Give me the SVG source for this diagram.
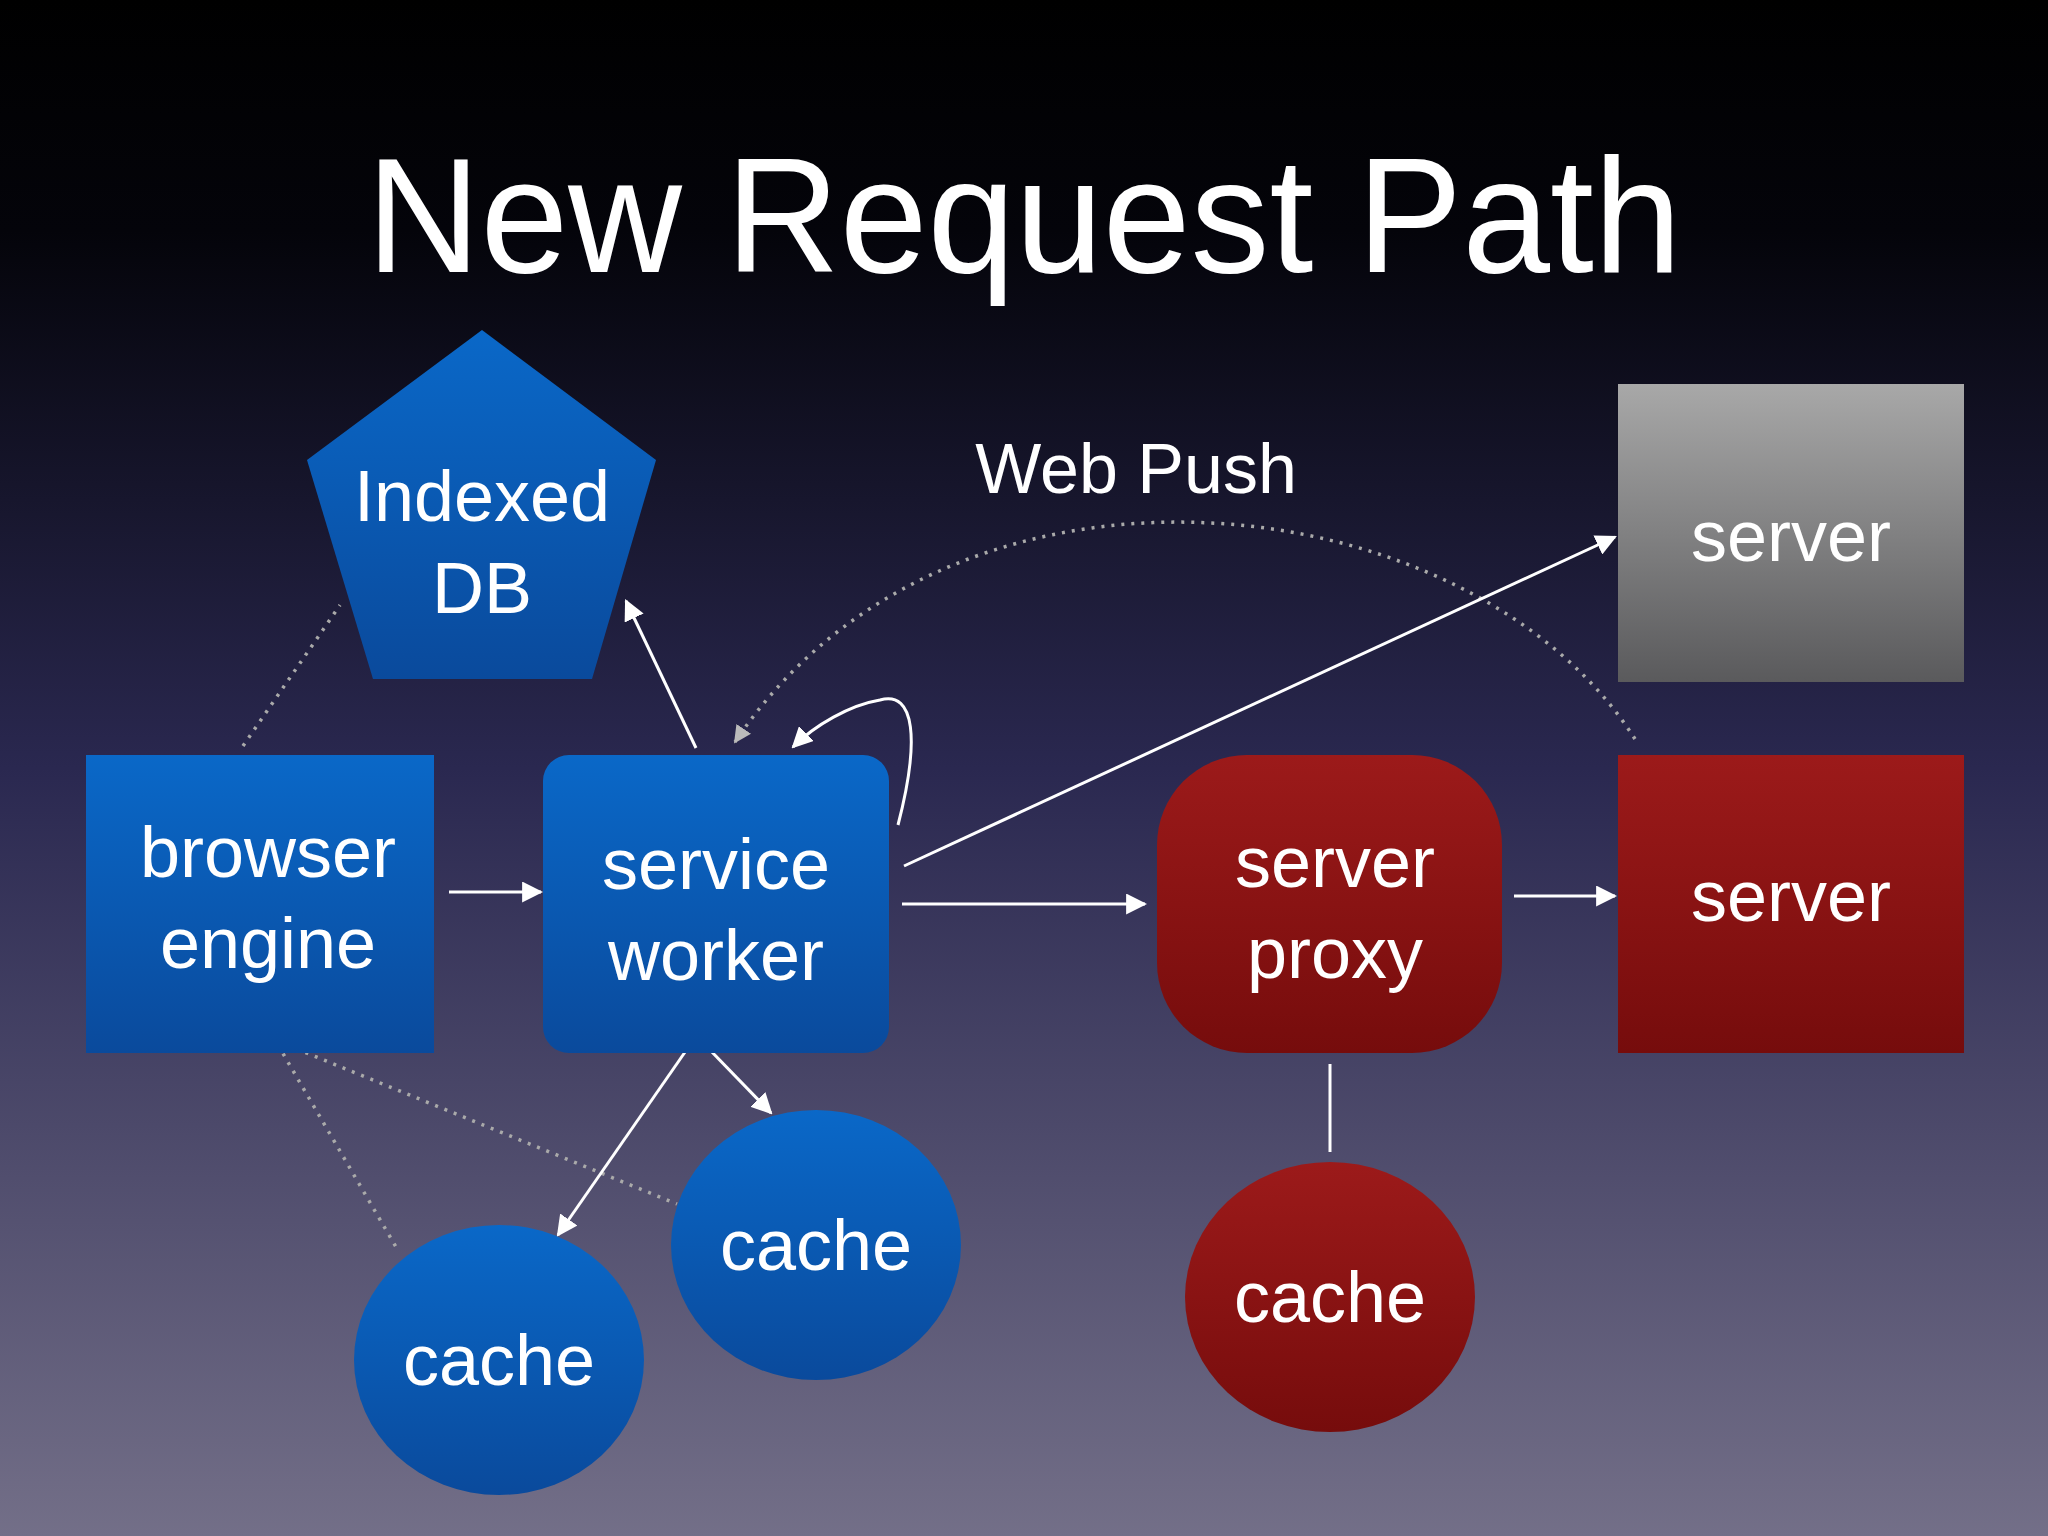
<svg xmlns="http://www.w3.org/2000/svg" width="2048" height="1536" viewBox="0 0 2048 1536">
<defs>
<linearGradient id="bg" x1="0" y1="0" x2="0" y2="1"><stop offset="0" stop-color="#000"/><stop offset="0.15" stop-color="#04040a"/><stop offset="0.5" stop-color="#2a2850"/><stop offset="1" stop-color="#736f88"/></linearGradient>
<linearGradient id="blue" x1="0" y1="0" x2="0" y2="1"><stop offset="0" stop-color="#0a68c8"/><stop offset="1" stop-color="#0a4a9c"/></linearGradient>
<linearGradient id="red" x1="0" y1="0" x2="0" y2="1"><stop offset="0" stop-color="#9c1a1a"/><stop offset="1" stop-color="#760c0c"/></linearGradient>
<linearGradient id="gray" x1="0" y1="0" x2="0" y2="1"><stop offset="0" stop-color="#a8a8a8"/><stop offset="1" stop-color="#5a5a5c"/></linearGradient>
<marker id="ah" viewBox="0 0 10 10" refX="9" refY="5" markerWidth="7" markerHeight="7" orient="auto"><path d="M0,0 L10,5 L0,10 z" fill="#fff"/></marker>
<marker id="ahg" viewBox="0 0 10 10" refX="9" refY="5" markerWidth="5" markerHeight="5" orient="auto"><path d="M0,0 L10,5 L0,10 z" fill="#bbb"/></marker>
<style>
text{font-family:"Liberation Sans",Arial,sans-serif;fill:#fff;text-anchor:middle}
.l{font-size:72px}
.c{stroke:#fff;stroke-width:3;fill:none}
.d{stroke:#aaa;stroke-width:3.5;fill:none;stroke-dasharray:3 7}
</style>
</defs>
<rect width="2048" height="1536" fill="url(#bg)"/>
<text x="1024" y="272" font-size="164" textLength="1315" lengthAdjust="spacingAndGlyphs">New Request Path</text>
<text x="1136" y="493" font-size="70">Web Push</text>
<g id="connectors">
<path class="d" d="M243,746 L340,605"/>
<path class="d" d="M278,1045 L396,1247"/>
<path class="d" d="M287,1045 L677,1204"/>
<path class="d" d="M1635,739 C1470,480 950,420 735,742" marker-end="url(#ahg)"/>
<path class="c" d="M449,892 L541,892" marker-end="url(#ah)"/>
<path class="c" d="M696,748 L626,601" marker-end="url(#ah)"/>
<path class="c" d="M898,825 C920,740 915,690 880,700 C850,705 815,725 793,747" marker-end="url(#ah)"/>
<path class="c" d="M904,866 L1615,537" marker-end="url(#ah)"/>
<path class="c" d="M902,904 L1145,904" marker-end="url(#ah)"/>
<path class="c" d="M1514,896 L1615,896" marker-end="url(#ah)"/>
<path class="c" d="M1330,1064 L1330,1152"/>
<path class="c" d="M709,1049 L771,1113" marker-end="url(#ah)"/>
<path class="c" d="M692,1042 L558,1235" marker-end="url(#ah)"/>
</g>
<g id="indexeddb"><polygon points="482,330 656,460 592,679 373,679 307,460" fill="url(#blue)"/><text class="l" x="482" y="521">Indexed</text><text class="l" x="482" y="613">DB</text></g>
<g id="browser"><rect x="86" y="755" width="348" height="298" fill="url(#blue)"/><text class="l" x="268" y="877">browser</text><text class="l" x="268" y="968">engine</text></g>
<g id="sw"><rect x="543" y="755" width="346" height="298" rx="26" fill="url(#blue)"/><text class="l" x="716" y="889">service</text><text class="l" x="716" y="980">worker</text></g>
<g id="proxy"><rect x="1157" y="755" width="345" height="298" rx="90" fill="url(#red)"/><text class="l" x="1335" y="887">server</text><text class="l" x="1335" y="978">proxy</text></g>
<g id="server"><rect x="1618" y="755" width="346" height="298" fill="url(#red)"/><text class="l" x="1791" y="921">server</text></g>
<g id="server2"><rect x="1618" y="384" width="346" height="298" fill="url(#gray)"/><text class="l" x="1791" y="561">server</text></g>
<g id="cache1"><ellipse cx="816" cy="1245" rx="145" ry="135" fill="url(#blue)"/><text class="l" x="816" y="1270">cache</text></g>
<g id="cache2"><ellipse cx="499" cy="1360" rx="145" ry="135" fill="url(#blue)"/><text class="l" x="499" y="1385">cache</text></g>
<g id="cache3"><ellipse cx="1330" cy="1297" rx="145" ry="135" fill="url(#red)"/><text class="l" x="1330" y="1322">cache</text></g>
</svg>
